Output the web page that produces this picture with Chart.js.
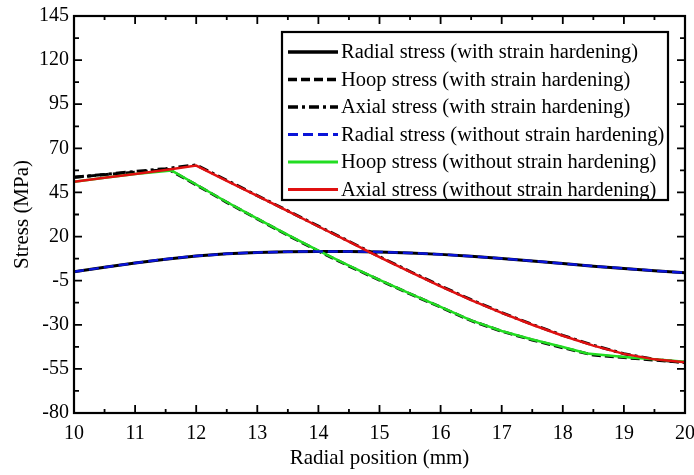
<!DOCTYPE html>
<html>
<head>
<meta charset="utf-8">
<script src="https://cdn.jsdelivr.net/npm/chart.js@4.4.0/dist/chart.umd.min.js"></script>
<style>
  html, body { margin: 0; padding: 0; background: #fff; }
</style>
</head>
<body>
<canvas id="stressChart" width="694" height="475"></canvas>
<script>
// values: radial position (mm) vs stress (MPa)
const xRadial = [10, 10.5, 11, 11.5, 12, 12.5, 13, 13.5, 14, 14.5, 15, 15.5, 16, 16.5, 17, 17.5, 18, 18.5, 19, 19.5, 20];
const radialWith = [0, 2.6, 5.0, 7.2, 9.0, 10.2, 11.0, 11.4, 11.6, 11.6, 11.3, 10.7, 9.9, 8.8, 7.6, 6.2, 4.7, 3.2, 1.9, 0.6, -0.5];
const radialWithout = [0, 2.6, 5.0, 7.2, 9.0, 10.2, 11.0, 11.4, 11.6, 11.6, 11.3, 10.7, 9.9, 8.8, 7.6, 6.2, 4.7, 3.2, 1.9, 0.6, -0.5];

const xHoopWith = [10, 10.5, 11, 11.55, 12, 12.5, 13, 13.5, 14, 14.5, 15, 15.5, 16, 16.5, 17, 17.5, 18, 18.5, 19, 19.5, 20];
const hoopWith = [53.6, 55.1, 56.5, 58.0, 49.3, 39.4, 30.0, 20.7, 11.8, 3.3, -4.7, -12.5, -20.0, -27.7, -33.7, -38.6, -43.0, -47.2, -48.6, -50.0, -51.4];

const xAxialWith = [10, 10.5, 11, 11.5, 12, 12.5, 13, 13.5, 14, 14.5, 15, 15.5, 16, 16.5, 17, 17.5, 18, 18.5, 19, 19.5, 20];
const axialWith = [53.6, 55.2, 56.9, 58.5, 60.6, 51.9, 43.2, 34.6, 25.9, 17.3, 8.6, 0.2, -8.0, -15.8, -23.1, -29.8, -36.0, -41.6, -46.4, -49.6, -51.4];

const xHoopWithout = [10, 10.5, 11, 11.6, 12, 12.5, 13, 13.5, 14, 14.5, 15, 15.5, 16, 16.5, 17, 17.5, 18, 18.4, 18.7, 19.1, 19.5, 20];
const hoopWithout = [51.1, 53.3, 55.5, 57.4, 49.5, 39.6, 30.2, 20.9, 12.0, 3.5, -4.5, -12.3, -19.8, -27.5, -33.5, -38.3, -42.6, -46.3, -47.3, -48.5, -49.6, -51.0];

const xAxialWithout = [10, 10.5, 11, 11.5, 12, 12.5, 13, 13.5, 14, 14.5, 15, 15.5, 16, 16.5, 17, 17.5, 18, 18.5, 19, 19.5, 20];
const axialWithout = [51.1, 53.3, 55.5, 57.7, 60.2, 51.6, 43.0, 34.4, 25.7, 17.1, 8.4, 0.0, -8.2, -16.0, -23.3, -30.0, -36.2, -41.8, -46.5, -49.6, -51.3];

const seriesLabels = [
  'Radial stress (with strain hardening)',
  'Hoop stress (with strain hardening)',
  'Axial stress (with strain hardening)',
  'Radial stress (without strain hardening)',
  'Hoop stress (without strain hardening)',
  'Axial stress (without strain hardening)'
];

const xTicks = [10, 11, 12, 13, 14, 15, 16, 17, 18, 19, 20];
const yTicks = [-80, -55, -30, -5, 20, 45, 70, 95, 120, 145];

const serif = 'Liberation Serif, Times New Roman, serif';

function pts(xs, ys) {
  return xs.map((x, i) => ({ x: x, y: ys[i] }));
}

// draws the closed frame and inward ticks (major + minor) on all four sides
const frameTicks = {
  id: 'frameTicks',
  afterDatasetsDraw(chart) {
    const ctx = chart.ctx;
    const a = chart.chartArea;
    const sx = chart.scales.x, sy = chart.scales.y;
    ctx.save();
    ctx.strokeStyle = '#000';
    ctx.lineWidth = 1.8;
    ctx.beginPath();
    for (let i = 0; i < xTicks.length; i++) {
      const v = xTicks[i];
      let px = sx.getPixelForValue(v);
      ctx.moveTo(px, a.bottom); ctx.lineTo(px, a.bottom - 8);
      ctx.moveTo(px, a.top); ctx.lineTo(px, a.top + 8);
      if (i < xTicks.length - 1) {
        px = sx.getPixelForValue((v + xTicks[i + 1]) / 2);
        ctx.moveTo(px, a.bottom); ctx.lineTo(px, a.bottom - 4);
        ctx.moveTo(px, a.top); ctx.lineTo(px, a.top + 4);
      }
    }
    for (let i = 0; i < yTicks.length; i++) {
      const v = yTicks[i];
      let py = sy.getPixelForValue(v);
      ctx.moveTo(a.left, py); ctx.lineTo(a.left + 8, py);
      ctx.moveTo(a.right, py); ctx.lineTo(a.right - 8, py);
      if (i < yTicks.length - 1) {
        py = sy.getPixelForValue((v + yTicks[i + 1]) / 2);
        ctx.moveTo(a.left, py); ctx.lineTo(a.left + 5, py);
        ctx.moveTo(a.right, py); ctx.lineTo(a.right - 5, py);
      }
    }
    ctx.stroke();
    ctx.lineWidth = 2.2;
    ctx.strokeRect(a.left, a.top, a.right - a.left, a.bottom - a.top);
    ctx.restore();
  }
};

// boxed legend inside the plot, upper right
const boxLegend = {
  id: 'boxLegend',
  afterDraw(chart, args, opts) {
    const ctx = chart.ctx;
    ctx.save();
    ctx.fillStyle = '#fff';
    ctx.fillRect(opts.left, opts.top, opts.width, opts.height);
    ctx.strokeStyle = '#000';
    ctx.lineWidth = 2.2;
    ctx.strokeRect(opts.left, opts.top, opts.width, opts.height);
    ctx.font = opts.font;
    ctx.textBaseline = 'middle';
    ctx.fillStyle = '#000';
    chart.data.datasets.forEach((ds, i) => {
      const yy = opts.top + opts.firstRow + i * opts.rowGap;
      ctx.save();
      ctx.strokeStyle = ds.borderColor;
      ctx.lineWidth = ds.borderWidth + 0.5;
      ctx.setLineDash(ds.borderDash || []);
      ctx.beginPath();
      ctx.moveTo(opts.left + opts.lineStart, yy);
      ctx.lineTo(opts.left + opts.lineEnd, yy);
      ctx.stroke();
      ctx.restore();
      ctx.fillText(ds.label, opts.left + opts.textStart, yy + 1);
    });
    ctx.restore();
  }
};

const ctx = document.getElementById('stressChart').getContext('2d');
const chart = new Chart(ctx, {
  type: 'line',
  data: {
    datasets: [
      { label: seriesLabels[0], data: pts(xRadial, radialWith), borderColor: '#000000', borderWidth: 3, order: 2 },
      { label: seriesLabels[1], data: pts(xHoopWith, hoopWith), borderColor: '#000000', borderWidth: 3, borderDash: [9, 4], order: 2 },
      { label: seriesLabels[2], data: pts(xAxialWith, axialWith), borderColor: '#000000', borderWidth: 3, borderDash: [10, 4, 3, 4], order: 2 },
      { label: seriesLabels[3], data: pts(xRadial, radialWithout), borderColor: '#0a14d8', borderWidth: 2.5, borderDash: [10, 5], order: 1 },
      { label: seriesLabels[4], data: pts(xHoopWithout, hoopWithout), borderColor: '#22dd22', borderWidth: 2.5, order: 1 },
      { label: seriesLabels[5], data: pts(xAxialWithout, axialWithout), borderColor: '#e01010', borderWidth: 2.5, order: 0 }
    ]
  },
  options: {
    responsive: false,
    animation: false,
    devicePixelRatio: 1,
    elements: { point: { radius: 0 }, line: { tension: 0, fill: false } },
    layout: { padding: { top: 16, right: 9, left: 0, bottom: 0 } },
    scales: {
      x: {
        type: 'linear',
        min: 10, max: 20,
        grid: { display: false, drawTicks: false },
        border: { display: false },
        afterBuildTicks: s => { s.ticks = xTicks.map(v => ({ value: v })); },
        afterFit: s => { s.height = 62; s.paddingRight = 0; s.paddingLeft = 0; },
        ticks: { color: '#000', padding: 9, maxRotation: 0, font: { family: serif, size: 20 } },
        title: { display: true, text: 'Radial position (mm)', color: '#000', font: { family: serif, size: 21 }, padding: { top: 0, bottom: 4 } }
      },
      y: {
        type: 'linear',
        min: -80, max: 145,
        grid: { display: false, drawTicks: false },
        border: { display: false },
        afterBuildTicks: s => { s.ticks = yTicks.map(v => ({ value: v })); },
        afterFit: s => { s.width = 74; s.paddingTop = 0; s.paddingBottom = 0; },
        ticks: { color: '#000', padding: 5, font: { family: serif, size: 20 } },
        title: { display: true, text: 'Stress (MPa)', color: '#000', font: { family: serif, size: 21 }, padding: { top: 10, bottom: 0 } }
      }
    },
    plugins: {
      legend: { display: false },
      tooltip: { enabled: false },
      boxLegend: {
        left: 282, top: 32, width: 386, height: 168,
        firstRow: 20, rowGap: 27.5,
        lineStart: 6, lineEnd: 56, textStart: 59,
        font: '20.5px ' + serif
      }
    }
  },
  plugins: [frameTicks, boxLegend]
});
</script>
</body>
</html>
